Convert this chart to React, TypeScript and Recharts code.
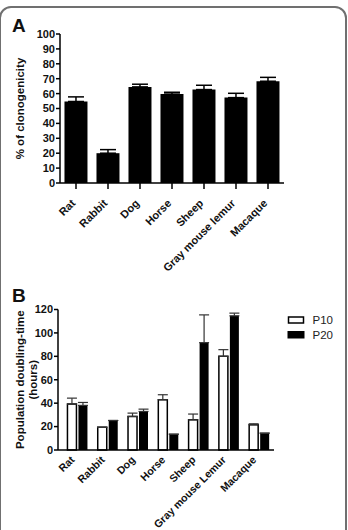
import { BarChart, Bar, XAxis, YAxis, ErrorBar, Legend } from "recharts";

const FONT = '"Liberation Sans", Arial, sans-serif';

// panel A
const speciesA = ["Rat", "Rabbit", "Dog", "Horse", "Sheep", "Gray mouse lemur", "Macaque"];
const clonogenicity = [54.7, 20, 64.5, 59.7, 62.7, 57.3, 68.3];
const clonoErr = [3.1, 2.4, 1.8, 1.2, 2.9, 2.9, 2.6];
const ticksA = [0, 10, 20, 30, 40, 50, 60, 70, 80, 90, 100];

// panel B
const speciesB = ["Rat", "Rabbit", "Dog", "Horse", "Sheep", "Gray mouse Lemur", "Macaque"];
const p10 = [39.2, 19.4, 28.7, 43, 25.8, 80, 21.6];
const p10Err = [5.1, 0, 2.8, 4.2, 4.9, 5.7, 0.8];
const p20 = [38.1, 25.2, 32.9, 13.5, 91.7, 114.6, 14.4];
const p20Err = [2.5, 0, 2.0, 0, 23.7, 2.3, 0];
const ticksB = [0, 20, 40, 60, 80, 100, 120];

const dataA = speciesA.map((name, i) => ({
  name,
  value: clonogenicity[i],
  err: [0, clonoErr[i]],
}));

const dataB = speciesB.map((name, i) => ({
  name,
  P10: p10[i],
  P10err: [0, p10Err[i]],
  P20: p20[i],
  P20err: [0, p20Err[i]],
}));

const tickFont = { fontSize: 11, fontWeight: "bold", fill: "#111", fontFamily: FONT };

function SpeciesTick(props: any) {
  const { x, y, payload, shiftX = 0, shiftY = 0, size = 11 } = props;
  return (
    <g transform={`translate(${x + shiftX},${y + shiftY})`}>
      <text textAnchor="end" transform="rotate(-45)" {...tickFont} fontSize={size}>
        {payload.value}
      </text>
    </g>
  );
}

function YTitle(props: any) {
  const { viewBox, lines, bx } = props;
  const cy = viewBox.y + viewBox.height / 2;
  return (
    <text
      x={bx}
      y={cy}
      transform={`rotate(-90, ${bx}, ${cy})`}
      textAnchor="middle"
      fontSize={11.5}
      fontWeight="bold"
      fill="#111"
      fontFamily={FONT}
    >
      {lines.map((l: string, i: number) => (
        <tspan key={l} x={bx} dy={i === 0 ? 0 : 13}>
          {l}
        </tspan>
      ))}
    </text>
  );
}

function LegendBoxes() {
  return (
    <svg width={60} height={30} style={{ display: "block" }}>
      <rect x={1.5} y={3} width={15} height={6} fill="#fff" stroke="#000" strokeWidth={1.5} />
      <text x={25.5} y={10} fontSize={11.5} fill="#222" fontFamily={FONT}>P10</text>
      <rect x={0.5} y={17} width={17} height={7.5} fill="#000" />
      <text x={25.5} y={24.5} fontSize={11.5} fill="#222" fontFamily={FONT}>P20</text>
    </svg>
  );
}

const panelLetter = (top: number): React.CSSProperties => ({
  position: "absolute",
  left: 12,
  top,
  fontSize: 19,
  fontWeight: "bold",
  fontFamily: FONT,
  color: "#111",
  lineHeight: 1,
});

export default function App() {
  return (
    <div
      style={{
        position: "absolute",
        left: 0,
        top: 0,
        width: 348,
        height: 530,
        background: "#fff",
        overflow: "hidden",
      }}
    >
      <div
        style={{
          position: "absolute",
          left: -1,
          top: 6,
          width: 348,
          height: 600,
          border: "2px solid #707070",
          borderRadius: 12,
          boxSizing: "border-box",
        }}
      />
      <div style={panelLetter(16)}>A</div>
      <div style={panelLetter(286)}>B</div>

      <div style={{ position: "absolute", left: 0, top: 0 }}>
        <BarChart
          width={348}
          height={290}
          data={dataA}
          margin={{ top: 34, right: 64, bottom: 0, left: 0 }}
          barCategoryGap="14%"
        >
          <XAxis
            dataKey="name"
            height={107}
            interval={0}
            axisLine={{ stroke: "#000", strokeWidth: 1.5 }}
            tickLine={{ stroke: "#000", strokeWidth: 1.5 }}
            tickSize={6}
            tickMargin={2}
            tick={<SpeciesTick shiftX={0} shiftY={13} />}
          />
          <YAxis
            width={60}
            domain={[0, 100]}
            ticks={ticksA}
            interval={0}
            axisLine={{ stroke: "#000", strokeWidth: 1.5 }}
            tickLine={{ stroke: "#000", strokeWidth: 1.5 }}
            tickSize={4}
            tickMargin={1}
            tick={tickFont}
            label={{
              content: (p: any) => (
                <YTitle viewBox={p.viewBox} lines={["% of clonogenicity"]} bx={24} />
              ),
            }}
          />
          <Bar dataKey="value" fill="#000" isAnimationActive={false}>
            <ErrorBar dataKey="err" width={8} stroke="#000" strokeWidth={1.5} />
          </Bar>
        </BarChart>
      </div>

      <div style={{ position: "absolute", left: 0, top: 280 }}>
        <BarChart
          width={348}
          height={250}
          data={dataB}
          margin={{ top: 29.5, right: 74, bottom: 0, left: 0 }}
          barCategoryGap="18%"
          barGap={2}
        >
          <XAxis
            dataKey="name"
            height={80}
            interval={0}
            padding={{ left: 4, right: 0 }}
            axisLine={{ stroke: "#000", strokeWidth: 1.5 }}
            tickLine={false}
            tickSize={0}
            tickMargin={0}
            tick={<SpeciesTick shiftX={-2} shiftY={10.5} size={10.6} />}
          />
          <YAxis
            width={58}
            domain={[0, 120]}
            ticks={ticksB}
            interval={0}
            axisLine={{ stroke: "#000", strokeWidth: 1.5 }}
            tickLine={{ stroke: "#000", strokeWidth: 1.5 }}
            tickSize={4}
            tickMargin={1}
            tick={tickFont}
            label={{
              content: (p: any) => (
                <YTitle
                  viewBox={p.viewBox}
                  lines={["Population doubling-time", "(hours)"]}
                  bx={24}
                />
              ),
            }}
          />
          <Legend
            layout="vertical"
            align="center"
            verticalAlign="middle"
            wrapperStyle={{ position: "absolute", left: 287, top: 34, width: 60, height: 30 }}
            content={() => <LegendBoxes />}
          />
          <Bar dataKey="P10" fill="#fff" stroke="#000" strokeWidth={1.5} isAnimationActive={false}>
            <ErrorBar dataKey="P10err" width={5} stroke="#333" strokeWidth={1.2} />
          </Bar>
          <Bar dataKey="P20" fill="#000" isAnimationActive={false}>
            <ErrorBar dataKey="P20err" width={5} stroke="#333" strokeWidth={1.2} />
          </Bar>
        </BarChart>
      </div>
    </div>
  );
}
